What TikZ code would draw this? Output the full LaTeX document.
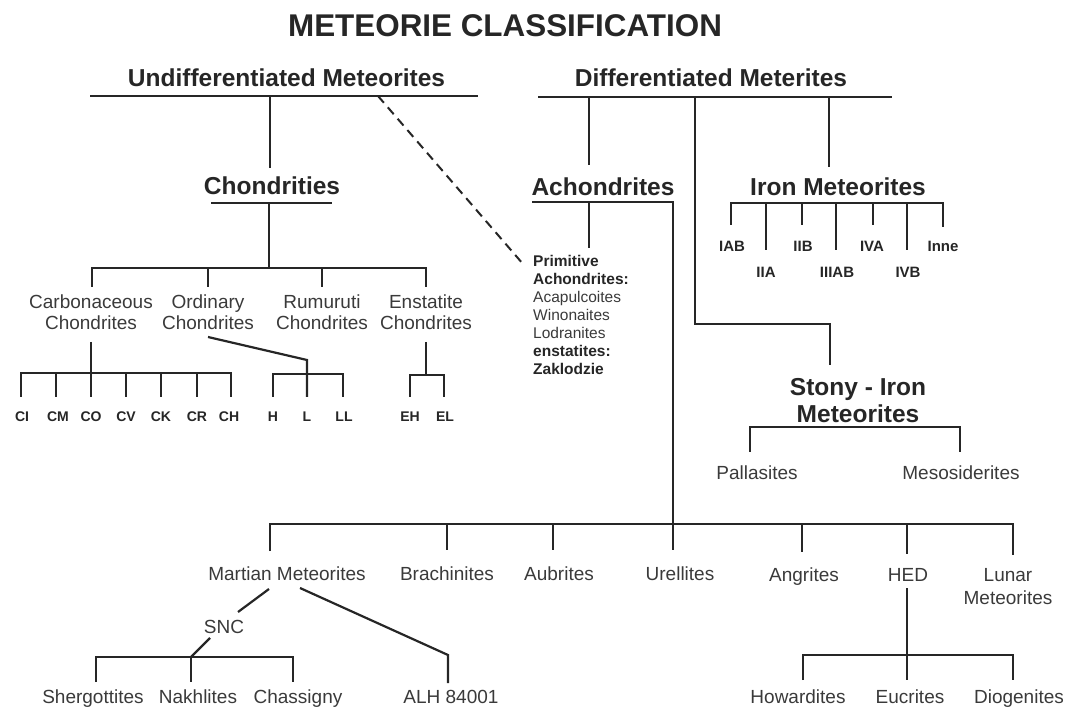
\documentclass[tikz,border=0pt]{standalone}
\usepackage{fontspec}
\setmainfont{Liberation Sans}
\definecolor{ink}{HTML}{262626}
\definecolor{soft}{HTML}{3a3a3a}
\begin{document}
\begin{tikzpicture}[x=1pt,y=-1pt,
  conn/.style={draw=ink,line width=2.2pt},
  dashconn/.style={draw=ink,line width=2pt,dash pattern=on 9pt off 6pt},
  ttl/.style={font=\fontsize{31.4}{36}\selectfont\bfseries,text=ink,inner sep=0pt,anchor=base},
  head/.style={font=\fontsize{24.5}{27}\selectfont\bfseries,text=ink,inner sep=0pt,anchor=base},
  headtwo/.style={font=\fontsize{24.5}{27}\selectfont\bfseries,text=ink,inner sep=0pt,align=center},
  lab/.style={font=\fontsize{19}{21}\selectfont,text=soft,inner sep=0pt,anchor=base},
  labtwo/.style={font=\fontsize{19}{21}\selectfont,text=soft,inner sep=0pt,align=center},
  sml/.style={font=\fontsize{14}{16}\selectfont\bfseries,text=ink,inner sep=0pt,anchor=base},
  irn/.style={font=\fontsize{15}{17}\selectfont\bfseries,text=ink,inner sep=0pt,anchor=base},
]
\useasboundingbox (0,0) rectangle (1066,708);

% ---------- text nodes ----------
\node[ttl] (title) at (505,36.3) {METEORIE CLASSIFICATION};
\node[head] (undiff) at (286.5,86.8) {Undifferentiated Meteorites};
\node[head] (diff) at (711,86.8) {Differentiated Meterites};
\node[head] (chond) at (272,194.8) {Chondrities};
\node[head] (achon) at (603,195.8) {Achondrites};
\node[head] (iron) at (838,195.8) {Iron Meteorites};
\node[headtwo] (stony) at (858,400.5) {Stony - Iron\\Meteorites};

\node[labtwo] (carb) at (91,312.5) {Carbonaceous\\Chondrites};
\node[labtwo] (ordi) at (208,312.5) {Ordinary\\Chondrites};
\node[labtwo] (rumu) at (322,312.5) {Rumuruti\\Chondrites};
\node[labtwo] (enst) at (426,312.5) {Enstatite\\Chondrites};

\node[sml] (ci) at (22,422) {CI};
\node[sml] (cm) at (58,422) {CM};
\node[sml] (co) at (91,422) {CO};
\node[sml] (cv) at (126,422) {CV};
\node[sml] (ck) at (161,422) {CK};
\node[sml] (cr) at (197,422) {CR};
\node[sml] (ch) at (229,422) {CH};
\node[sml] (oh) at (273,422) {H};
\node[sml] (ol) at (307,422) {L};
\node[sml] (oll) at (344,422) {LL};
\node[sml] (eh) at (410,422) {EH};
\node[sml] (el) at (445,422) {EL};

\node[irn] (iab) at (732,251.4) {IAB};
\node[irn] (iib) at (803,251.4) {IIB};
\node[irn] (iva) at (872,251.4) {IVA};
\node[irn] (inne) at (943,251.4) {Inne};
\node[irn] (iia) at (766,277.4) {IIA};
\node[irn] (iiiab) at (837,277.4) {IIIAB};
\node[irn] (ivb) at (908,277.4) {IVB};

\node[font=\fontsize{15.5}{18}\selectfont,text=soft,inner sep=0pt,align=left,anchor=north west]
  (prim) at (533,255.5)
  {{\bfseries\color{ink}Primitive}\\{\bfseries\color{ink}Achondrites:}\\Acapulcoites\\Winonaites\\Lodranites\\{\bfseries\color{ink}enstatites:}\\{\bfseries\color{ink}Zaklodzie}};

\node[lab] (pall) at (757,479.8) {Pallasites};
\node[lab] (meso) at (961,479.8) {Mesosiderites};

\node[lab] (mart) at (287,580.8) {Martian Meteorites};
\node[lab] (brach) at (447,580.8) {Brachinites};
\node[lab] (aub) at (559,580.8) {Aubrites};
\node[lab] (ure) at (680,580.8) {Urellites};
\node[lab] (ang) at (804,581.3) {Angrites};
\node[lab] (hed) at (908,581.3) {HED};
\node[font=\fontsize{19}{23}\selectfont,text=soft,inner sep=0pt,align=center] (lunar) at (1008,586.5) {Lunar\\Meteorites};
\node[lab] (snc) at (224,633.8) {SNC};

\node[lab] (sherg) at (93,703) {Shergottites};
\node[lab] (nakh) at (198,703) {Nakhlites};
\node[lab] (chas) at (298,703) {Chassigny};
\node[lab] (alh) at (451,703) {ALH 84001};
\node[lab] (how) at (798,703) {Howardites};
\node[lab] (euc) at (910,703) {Eucrites};
\node[lab] (dio) at (1019,703) {Diogenites};

% ---------- junction coordinates ----------
% undifferentiated
\coordinate (ubL) at (90,96);  \coordinate (ubR) at (478,96);
\coordinate (ubC) at (270,96); \coordinate (ubD) at (378,96);
\coordinate (chTop) at (270,168);
\coordinate (primIn) at (523,264);
% chondrities
\coordinate (cuL) at (211,203); \coordinate (cuR) at (332,203);
\coordinate (cuC) at (269,203); \coordinate (cbC) at (269,268);
\coordinate (cbL) at (92,268);  \coordinate (cbR) at (426,268);
\coordinate (cbLe) at (92,287); \coordinate (cbRe) at (426,287);
\coordinate (cbO) at (208,268); \coordinate (cbOe) at (208,287);
\coordinate (cbU) at (322,268); \coordinate (cbUe) at (322,287);
% carbonaceous
\coordinate (caT) at (91,342); \coordinate (caB) at (91,397);
\coordinate (caL) at (21,373); \coordinate (caR) at (231,373);
\coordinate (caLe) at (21,397); \coordinate (caRe) at (231,397);
% ordinary
\coordinate (orT) at (208,337); \coordinate (orK) at (307,360); \coordinate (orB) at (307,397);
\coordinate (orL) at (273,374); \coordinate (orR) at (343,374);
\coordinate (orLe) at (273,397); \coordinate (orRe) at (343,397);
% enstatite
\coordinate (enT) at (426,342); \coordinate (enJ) at (426,375);
\coordinate (enL) at (410,375); \coordinate (enR) at (444,375);
\coordinate (enLe) at (410,397); \coordinate (enRe) at (444,397);
% differentiated
\coordinate (dbL) at (538,97); \coordinate (dbR) at (892,97);
\coordinate (dbA) at (589,97); \coordinate (acTop) at (589,165);
\coordinate (dbI) at (829,97); \coordinate (irTop) at (829,167);
\coordinate (dbS) at (695,97); \coordinate (dsK) at (695,324);
\coordinate (dsK2) at (830,324); \coordinate (stTop) at (830,365);
% achondrites
\coordinate (auL) at (532,202); \coordinate (auR) at (673,202);
\coordinate (auB) at (673,550);
\coordinate (auP) at (589,202); \coordinate (auPe) at (589,248);
% iron
\coordinate (ibL) at (731,203); \coordinate (ibR) at (943,203);
\coordinate (ibLe) at (731,225); \coordinate (ibRe) at (943,227);
% stony-iron
\coordinate (sbL) at (750,427); \coordinate (sbR) at (960,427);
\coordinate (sbLe) at (750,452); \coordinate (sbRe) at (960,452);
% big achondrite bar
\coordinate (bbL) at (270,524); \coordinate (bbR) at (1013,524);
\coordinate (bbLe) at (270,551); \coordinate (bbRe) at (1013,555);
% martian
\coordinate (maS) at (269,589); \coordinate (snT) at (238,612);
\coordinate (snB) at (210,638); \coordinate (sgC) at (191,657);
\coordinate (sgL) at (96,657); \coordinate (sgR) at (293,657);
\coordinate (sgLe) at (96,682); \coordinate (sgRe) at (293,682); \coordinate (sgCe) at (191,682);
\coordinate (maA) at (300,588); \coordinate (alK) at (448,655); \coordinate (alB) at (448,683);
% HED
\coordinate (heT) at (907,588); \coordinate (heB) at (907,680);
\coordinate (hbL) at (803,655); \coordinate (hbR) at (1013,655);
\coordinate (hbLe) at (803,680); \coordinate (hbRe) at (1013,680);

% ---------- connectors ----------
\draw[conn] (ubL) -- (ubR);
\draw[conn] (ubC) -- (chTop);
\draw[dashconn] (ubD) -- (primIn);

\draw[conn] (cuL) -- (cuR);
\draw[conn] (cuC) -- (cbC);
\draw[conn] (cbLe) -- (cbL) -- (cbR) -- (cbRe);
\draw[conn] (cbO) -- (cbOe);
\draw[conn] (cbU) -- (cbUe);

\draw[conn] (caT) -- (caB);
\draw[conn] (caLe) -- (caL) -- (caR) -- (caRe);
\foreach \x/\n in {56/cmt,126/cvt,161/ckt,197/crt}{
  \coordinate (\n) at (\x,373);
  \coordinate (\n e) at (\x,397);
  \draw[conn] (\n) -- (\n e);
}

\draw[conn] (orT) -- (orK) -- (orB);
\draw[conn] (orLe) -- (orL) -- (orR) -- (orRe);

\draw[conn] (enT) -- (enJ);
\draw[conn] (enLe) -- (enL) -- (enR) -- (enRe);

\draw[conn] (dbL) -- (dbR);
\draw[conn] (dbA) -- (acTop);
\draw[conn] (dbI) -- (irTop);
\draw[conn] (dbS) -- (dsK) -- (dsK2) -- (stTop);

\draw[conn] (auL) -- (auR) -- (auB);
\draw[conn] (auP) -- (auPe);

\draw[conn] (ibLe) -- (ibL) -- (ibR) -- (ibRe);
\foreach \x/\y/\n in {766/250/ta,802/225/tb,836/250/tc,873/225/td,907/250/te}{
  \coordinate (\n) at (\x,203);
  \coordinate (\n e) at (\x,\y);
  \draw[conn] (\n) -- (\n e);
}

\draw[conn] (sbLe) -- (sbL) -- (sbR) -- (sbRe);

\draw[conn] (bbLe) -- (bbL) -- (bbR) -- (bbRe);
\foreach \x/\y/\n in {447/550/ba,553/550/bb,802/552/bc,907/554/bd}{
  \coordinate (\n) at (\x,524);
  \coordinate (\n e) at (\x,\y);
  \draw[conn] (\n) -- (\n e);
}

\draw[conn] (maS) -- (snT);
\draw[conn] (snB) -- (sgC);
\draw[conn] (sgLe) -- (sgL) -- (sgR) -- (sgRe);
\draw[conn] (sgC) -- (sgCe);
\draw[conn] (maA) -- (alK) -- (alB);

\draw[conn] (heT) -- (heB);
\draw[conn] (hbLe) -- (hbL) -- (hbR) -- (hbRe);
\end{tikzpicture}
\end{document}
